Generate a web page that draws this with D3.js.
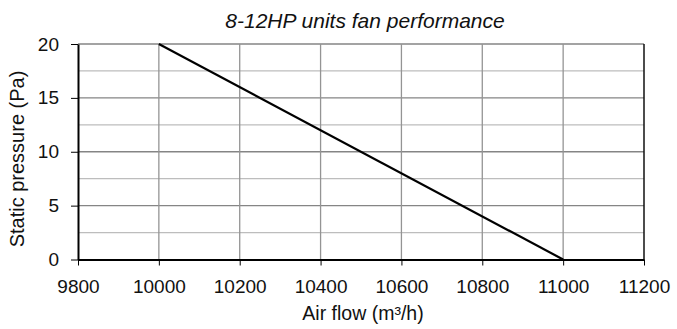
<!DOCTYPE html>
<html>
<head>
<meta charset="utf-8">
<script src="https://cdn.jsdelivr.net/npm/d3@7"></script>
<style>
  body { margin: 0; background: #fff; }
  text { font-family: "Liberation Sans", Arial, sans-serif; fill: #111; }
</style>
</head>
<body>
<svg id="chart" width="677" height="329"></svg>
<script>
// fan curve data
var airFlow = [10000, 11000];
var staticPressure = [20, 0];
var xTicks = [9800, 10000, 10200, 10400, 10600, 10800, 11000, 11200];
var yTicks = [0, 5, 10, 15, 20];
var yMinor = [2.5, 7.5, 12.5, 17.5];

var svg = d3.select("#chart");
var plotLeft = 78, plotRight = 644, plotTop = 44, plotBottom = 259.5;

var xScale = d3.scaleLinear().domain([9800, 11200]).range([plotLeft, plotRight]);
var yScale = d3.scaleLinear().domain([0, 20]).range([plotBottom, plotTop]);

// minor horizontal grid
svg.append("g").selectAll("line")
  .data(yMinor).enter().append("line")
  .attr("x1", plotLeft).attr("x2", plotRight)
  .attr("y1", function(d) { return yScale(d); })
  .attr("y2", function(d) { return yScale(d); })
  .attr("stroke", "#bdbdbd").attr("stroke-width", 1.3);

// major horizontal grid
svg.append("g").selectAll("line")
  .data(yTicks.slice(1)).enter().append("line")
  .attr("x1", plotLeft).attr("x2", plotRight)
  .attr("y1", function(d) { return yScale(d); })
  .attr("y2", function(d) { return yScale(d); })
  .attr("stroke", "#858585").attr("stroke-width", 1.3);

// vertical grid
svg.append("g").selectAll("line")
  .data(xTicks.slice(1, -1)).enter().append("line")
  .attr("x1", function(d) { return xScale(d); })
  .attr("x2", function(d) { return xScale(d); })
  .attr("y1", plotTop).attr("y2", plotBottom)
  .attr("stroke", "#949494").attr("stroke-width", 1.3);

// right border
svg.append("line")
  .attr("x1", plotRight).attr("x2", plotRight)
  .attr("y1", plotTop).attr("y2", plotBottom)
  .attr("stroke", "#111").attr("stroke-width", 1.5);

// axes
var xAxis = d3.axisBottom(xScale).tickValues(xTicks).tickFormat(d3.format("d"))
  .tickSize(6).tickSizeOuter(0).tickPadding(14);
var yAxis = d3.axisLeft(yScale).tickValues(yTicks).tickFormat(d3.format("d"))
  .tickSize(7).tickSizeOuter(0).tickPadding(12);

var gx = svg.append("g").attr("transform", "translate(0," + plotBottom + ")").call(xAxis);
var gy = svg.append("g").attr("transform", "translate(" + plotLeft + ",0)").call(yAxis);

[gx, gy].forEach(function(g) {
  g.select(".domain").attr("stroke", "#000").attr("stroke-width", 2);
  g.selectAll(".tick line").attr("stroke", "#000").attr("stroke-width", 1);
  g.selectAll(".tick text")
    .style("font-family", "'Liberation Sans', Arial, sans-serif")
    .style("font-size", "19px")
    .attr("fill", "#111");
});

// fan curve
var line = d3.line()
  .x(function(d) { return xScale(d[0]); })
  .y(function(d) { return yScale(d[1]); });

svg.append("path")
  .datum(d3.zip(airFlow, staticPressure))
  .attr("d", line)
  .attr("fill", "none")
  .attr("stroke", "#000")
  .attr("stroke-width", 2.2);

// title and axis labels
svg.append("text")
  .attr("x", 365).attr("y", 28)
  .attr("text-anchor", "middle")
  .style("font-size", "21px").style("font-style", "italic")
  .text("8-12HP units fan performance");

svg.append("text")
  .attr("x", 363).attr("y", 320)
  .attr("text-anchor", "middle")
  .style("font-size", "19.5px")
  .text("Air flow (m³/h)");

svg.append("text")
  .attr("transform", "translate(24,159) rotate(-90)")
  .attr("text-anchor", "middle")
  .style("font-size", "20px")
  .text("Static pressure (Pa)");
</script>
</body>
</html>
